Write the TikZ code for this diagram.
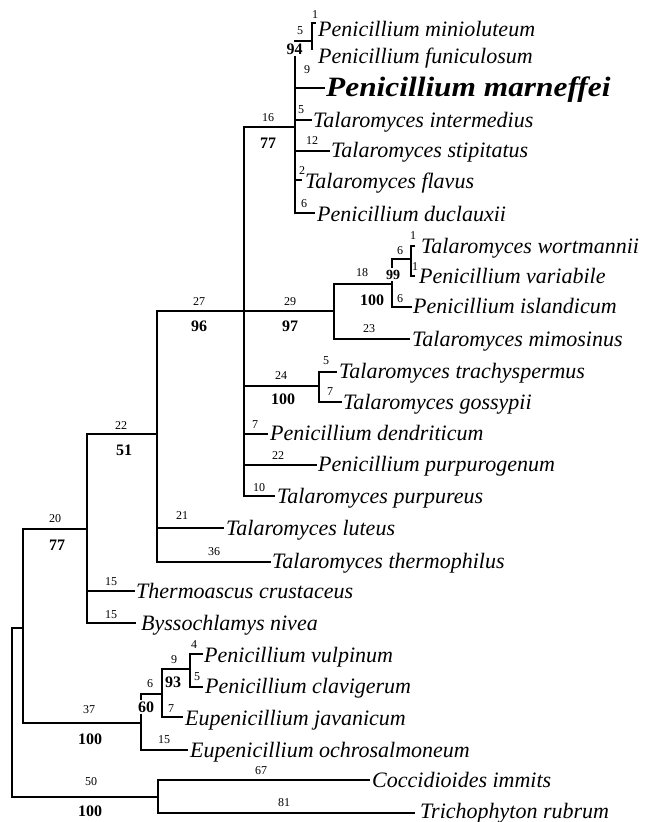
\documentclass[tikz,border=0pt]{standalone}
\usepackage{fontspec}
\setmainfont{Liberation Serif}
\begin{document}
\begin{tikzpicture}[x=1pt,y=-1pt,
  br/.style={line width=2.8pt},
  og/.style={line width=1.8pt},
  taxon/.style={anchor=base west, inner sep=0pt, font=\fontsize{22}{26}\selectfont\itshape},
  blen/.style={inner sep=0pt, font=\fontsize{12}{14}\selectfont},
  boot/.style={inner sep=0pt, font=\fontsize{16}{19}\selectfont\bfseries},
  bootw/.style={boot, fill=white, inner sep=2pt}]
\useasboundingbox (0,0) rectangle (648,822);
% tips
\coordinate (tMin) at (316,23);
\coordinate (tFun) at (312,50);
\coordinate (tMar) at (325,88);
\coordinate (tInt) at (312,120);
\coordinate (tSti) at (330,151);
\coordinate (tFla) at (302,180);
\coordinate (tDuc) at (315,213);
\coordinate (tWor) at (415,246);
\coordinate (tVar) at (415,276);
\coordinate (tIsl) at (412,307);
\coordinate (tMim) at (410,339);
\coordinate (tTra) at (337,372);
\coordinate (tGos) at (342,402);
\coordinate (tDen) at (268,434);
\coordinate (tPpg) at (317,465);
\coordinate (tPpr) at (275,496);
\coordinate (tLut) at (224,528);
\coordinate (tThe) at (271,562);
\coordinate (tCru) at (135,591);
\coordinate (tNiv) at (136,623);
\coordinate (tVul) at (203,654);
\coordinate (tCla) at (203,687);
\coordinate (tJav) at (183,717);
\coordinate (tOch) at (188,750);
\coordinate (tCoc) at (370,780);
\coordinate (tTri) at (415,813);
% internal nodes
\coordinate (nA) at (312,41);
\coordinate (n16) at (295,127);
\coordinate (nB) at (411,259);
\coordinate (n18) at (392,284);
\coordinate (n29) at (334,311);
\coordinate (n24) at (319,386);
\coordinate (n27) at (244,311);
\coordinate (n22) at (157,434);
\coordinate (n20) at (87,529);
\coordinate (n9) at (190,669);
\coordinate (n6) at (162,694);
\coordinate (n37) at (141,723);
\coordinate (nIn) at (23,628);
\coordinate (n50) at (158,797);
\coordinate (root) at (12,628);
% branches
\draw[br] (tMin) -| (tFun);
\draw[br] (nA) -| (n16) |- (tDuc);
\draw[br] (n16 |- tMar) -- (tMar);
\draw[br] (n16 |- tInt) -- (tInt);
\draw[br] (n16 |- tSti) -- (tSti);
\draw[br] (n16 |- tFla) -- (tFla);
\draw[br] (tWor) -| (nB) |- (tVar);
\draw[br] (nB) -| (n18) |- (tIsl);
\draw[br] (n18) -| (n29) |- (tMim);
\draw[br] (tTra) -| (n24) |- (tGos);
\draw[br] (n16) -| (n27) |- (tPpr);
\draw[br] (n27) -- (n29);
\draw[br] (n27 |- n24) -- (n24);
\draw[br] (n27 |- tDen) -- (tDen);
\draw[br] (n27 |- tPpg) -- (tPpg);
\draw[br] (n27) -| (n22) |- (tThe);
\draw[br] (n22 |- tLut) -- (tLut);
\draw[br] (n22) -| (n20) |- (tNiv);
\draw[br] (n20 |- tCru) -- (tCru);
\draw[br] (tVul) -| (n9) |- (tCla);
\draw[br] (n9) -| (n6) |- (tJav);
\draw[br] (n6) -| (n37) |- (tOch);
\draw[br] (n20) -| (nIn) |- (n37);
\draw[og] (tCoc) -| (n50) |- (tTri);
\draw[og] (nIn) -- (root) |- (n50);
% taxa
\node[taxon] (xMin) at (318,36) {Penicillium minioluteum};
\node[taxon] (xFun) at (318,63) {Penicillium funiculosum};
\node[taxon, font=\fontsize{28}{32}\selectfont\bfseries\itshape] (xMar) at (326,96) {\scalebox{1.12}[1]{Penicillium marneffei}};
\node[taxon] (xInt) at (313,127) {Talaromyces intermedius};
\node[taxon] (xSti) at (331,157) {Talaromyces stipitatus};
\node[taxon] (xFla) at (305,188) {Talaromyces flavus};
\node[taxon] (xDuc) at (317,221) {Penicillium duclauxii};
\node[taxon] (xWor) at (421,253) {Talaromyces wortmannii};
\node[taxon] (xVar) at (419,283) {Penicillium variabile};
\node[taxon] (xIsl) at (413,313) {Penicillium islandicum};
\node[taxon] (xMim) at (412,346) {Talaromyces mimosinus};
\node[taxon] (xTra) at (339,378) {Talaromyces trachyspermus};
\node[taxon] (xGos) at (343,409) {Talaromyces gossypii};
\node[taxon] (xDen) at (270,440) {Penicillium dendriticum};
\node[taxon] (xPpg) at (318,471) {Penicillium purpurogenum};
\node[taxon] (xPpr) at (277,503) {Talaromyces purpureus};
\node[taxon] (xLut) at (226,535) {Talaromyces luteus};
\node[taxon] (xThe) at (272,568) {Talaromyces thermophilus};
\node[taxon] (xCru) at (136,598) {Thermoascus crustaceus};
\node[taxon] (xNiv) at (141,630) {Byssochlamys nivea};
\node[taxon] (xVul) at (204,662) {Penicillium vulpinum};
\node[taxon] (xCla) at (205,693) {Penicillium clavigerum};
\node[taxon] (xJav) at (185,725) {Eupenicillium javanicum};
\node[taxon] (xOch) at (190,757) {Eupenicillium ochrosalmoneum};
\node[taxon] (xCoc) at (372,787) {Coccidioides immits};
\node[taxon] (xTri) at (420,818) {Trichophyton rubrum};
% branch lengths
\node[blen] (l1) at (315,15) {1};
\node[blen] (l2) at (300,31) {5};
\node[blen] (l3) at (307,70) {9};
\node[blen] (l4) at (301,110) {5};
\node[blen] (l5) at (312,141) {12};
\node[blen] (l6) at (302,171) {2};
\node[blen] (l7) at (304,204) {6};
\node[blen] (l8) at (268,118) {16};
\node[blen] (l9) at (413,236) {1};
\node[blen] (l10) at (415,267) {1};
\node[blen] (l11) at (400,251) {6};
\node[blen] (l12) at (362,273) {18};
\node[blen] (l13) at (400,299) {6};
\node[blen] (l14) at (199,302) {27};
\node[blen] (l15) at (290,302) {29};
\node[blen] (l16) at (369,329) {23};
\node[blen] (l17) at (326,361) {5};
\node[blen] (l18) at (281,376) {24};
\node[blen] (l19) at (330,392) {7};
\node[blen] (l20) at (255,425) {7};
\node[blen] (l21) at (121,426) {22};
\node[blen] (l22) at (278,456) {22};
\node[blen] (l23) at (259,488) {10};
\node[blen] (l24) at (182,516) {21};
\node[blen] (l25) at (55,519) {20};
\node[blen] (l26) at (214,552) {36};
\node[blen] (l27) at (111,582) {15};
\node[blen] (l28) at (111,615) {15};
\node[blen] (l29) at (194,645) {4};
\node[blen] (l30) at (174,660) {9};
\node[blen] (l31) at (197,677) {5};
\node[blen] (l32) at (150,684) {6};
\node[blen] (l33) at (171,709) {7};
\node[blen] (l34) at (89,710) {37};
\node[blen] (l35) at (164,740) {15};
\node[blen] (l36) at (261,771) {67};
\node[blen] (l37) at (91,782) {50};
\node[blen] (l38) at (284,803) {81};
% bootstrap values
\node[bootw] (b1) at (294.5,49) {94};
\node[boot] (b2) at (268,143) {77};
\node[bootw, font=\fontsize{14}{16}\selectfont\bfseries] (b3) at (393,274.5) {99};
\node[boot] (b4) at (372,300) {100};
\node[boot] (b5) at (199,326) {96};
\node[boot] (b6) at (290,326) {97};
\node[boot] (b7) at (283,399) {100};
\node[boot] (b8) at (124,450) {51};
\node[boot] (b9) at (57,545) {77};
\node[boot] (b10) at (173,682) {93};
\node[bootw] (b11) at (146,707) {60};
\node[boot] (b12) at (90,739) {100};
\node[boot] (b13) at (90,811) {100};
\end{tikzpicture}
\end{document}
